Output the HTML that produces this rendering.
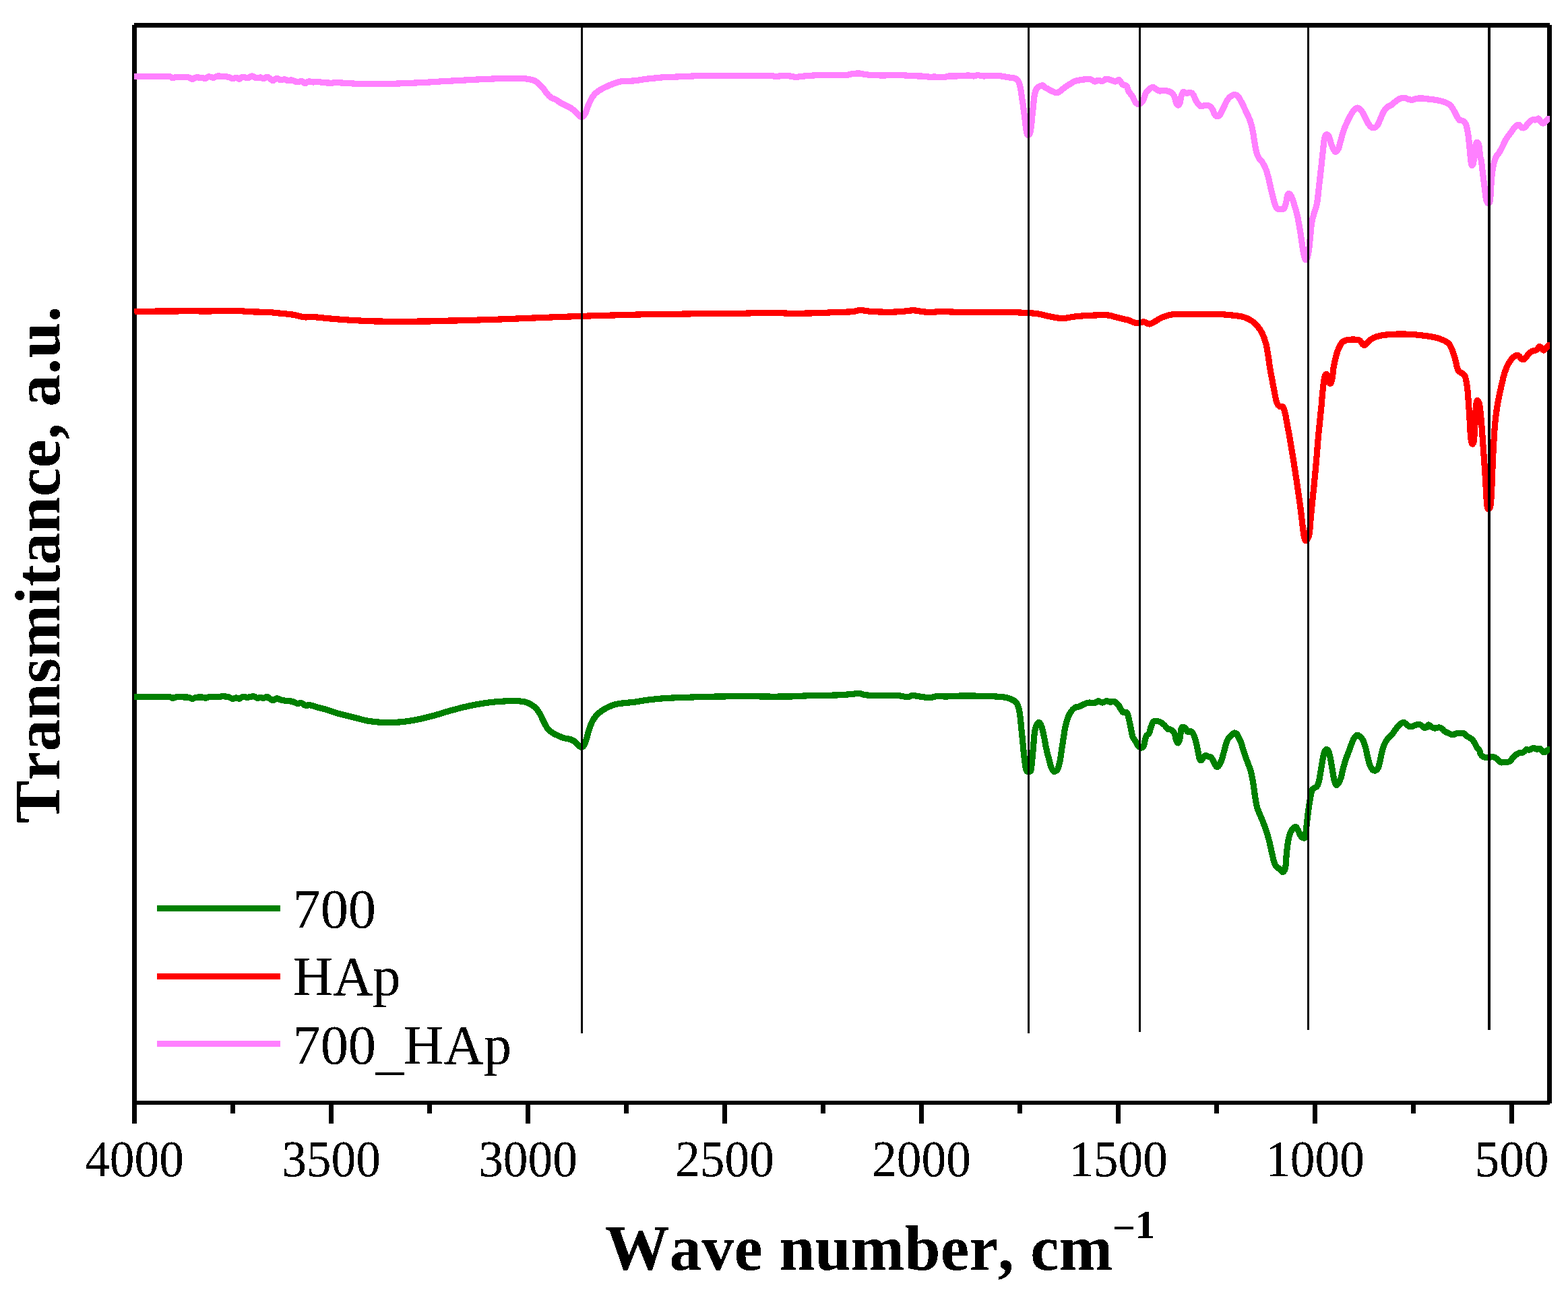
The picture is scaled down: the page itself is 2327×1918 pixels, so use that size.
<!DOCTYPE html>
<html lang="en"><head><meta charset="utf-8"><title>FTIR spectra: 700, HAp, 700_HAp</title>
<style>
html,body{margin:0;padding:0;background:#fff;}
body{width:2327px;height:1918px;overflow:hidden;}
svg{display:block;}
text{font-family:"Liberation Serif","Times New Roman",serif;fill:#000;}
.tick{font-size:76px;}
.leg{font-size:82.3px;}
.ax{font-weight:bold;font-size:95.3px;font-kerning:none;letter-spacing:0.3px;}
.sup{font-weight:bold;font-size:59px;font-kerning:none;letter-spacing:0;}
.k{fill:#000;}
.c{fill:none;stroke-width:9.2;stroke-linejoin:round;stroke-linecap:butt;shape-rendering:crispEdges;}
</style></head><body>
<svg width="2327" height="1918" viewBox="0 0 2327 1918">
<defs><filter id="crisp" x="0" y="0" width="100%" height="100%" filterUnits="userSpaceOnUse" color-interpolation-filters="sRGB"><feComponentTransfer><feFuncA type="discrete" tableValues="0 0 1 1 1"/></feComponentTransfer></filter></defs>
<rect x="0" y="0" width="2327" height="1918" fill="#ffffff"/>
<g id="frame">
<rect class="k" x="199" y="34" width="2101" height="7"/>
<rect class="k" x="196" y="37" width="7" height="1631"/>
<rect class="k" x="2296" y="37" width="7" height="1601"/>
<rect class="k" x="199" y="1634" width="2101" height="6"/>
</g>
<g id="ticks">
<rect class="k" x="342" y="1637" width="7" height="16"/>
<rect class="k" x="488" y="1637" width="7" height="31"/>
<rect class="k" x="634" y="1637" width="7" height="16"/>
<rect class="k" x="780" y="1637" width="7" height="31"/>
<rect class="k" x="926" y="1637" width="7" height="16"/>
<rect class="k" x="1072" y="1637" width="7" height="31"/>
<rect class="k" x="1218" y="1637" width="7" height="16"/>
<rect class="k" x="1364" y="1637" width="7" height="31"/>
<rect class="k" x="1510" y="1637" width="7" height="16"/>
<rect class="k" x="1656" y="1637" width="7" height="31"/>
<rect class="k" x="1802" y="1637" width="7" height="16"/>
<rect class="k" x="1948" y="1637" width="7" height="31"/>
<rect class="k" x="2094" y="1637" width="7" height="16"/>
<rect class="k" x="2240" y="1637" width="7" height="31"/>
</g>
<g id="curves">
<path class="c" stroke="#008000" d="M199,1034.5C203.9,1034.5 220,1034.8 228.5,1034.8C237,1034.7 245.2,1033.9 249.9,1034.2C254.5,1034.5 254.1,1036.2 256.3,1036.3C258.4,1036.4 260.2,1034.9 262.7,1034.6C265.2,1034.4 268.4,1034.8 271.2,1034.9C274.1,1035 277.4,1034.8 279.8,1035.2C282.1,1035.6 283.6,1037.3 285.5,1037.3C287.4,1037.3 288.8,1035.7 291.2,1035.3C293.5,1034.9 297.3,1034.9 299.7,1035C302.1,1035.2 303.5,1036.3 305.4,1036.2C307.3,1036.1 308.3,1034.7 311.1,1034.5C314,1034.2 319.2,1034.7 322.5,1034.6C325.8,1034.5 328.2,1033.7 331.1,1033.8C333.9,1033.8 337.2,1034.3 339.6,1034.9C342,1035.5 343.4,1037.2 345.3,1037.3C347.2,1037.5 349.3,1035.9 351,1035.9C352.7,1035.9 353.8,1037.5 355.3,1037.3C356.7,1037.1 357.4,1035 359.5,1034.6C361.7,1034.3 365.2,1035.3 368.1,1035.2C370.9,1035 374.4,1033.6 376.6,1033.8C378.9,1033.9 380,1036.1 381.6,1036.3C383.3,1036.6 385.1,1035.3 386.6,1035.3C388.2,1035.3 389.2,1036.5 390.9,1036.3C392.5,1036.2 394.9,1034.3 396.6,1034.5C398.2,1034.6 399.4,1036.5 400.9,1037.3C402.3,1038.2 403.5,1039.7 405.1,1039.6C406.8,1039.5 408.9,1036.9 410.8,1036.8C412.7,1036.6 414.1,1038.1 416.5,1038.8C418.9,1039.4 422.2,1040.2 425.1,1040.6C427.9,1041 431,1040.7 433.6,1041.3C436.2,1041.9 438.4,1043.7 440.7,1044.2C443.1,1044.6 445.8,1043.4 447.9,1043.9C449.9,1044.3 450.7,1046.5 452.9,1047C455,1047.5 457.7,1046.5 460.7,1047C463.6,1047.5 467.6,1049 470.7,1049.9C473.7,1050.7 475.9,1051 479.2,1052C482.5,1052.9 487.3,1054.5 490.6,1055.6C493.9,1056.6 493.9,1056.9 499.1,1058.4C504.4,1059.9 514.5,1062.3 522.4,1064.3C530.2,1066.2 538.2,1068.8 546.1,1070.2C554,1071.6 562,1072.3 569.9,1072.6C577.8,1072.9 585.7,1072.6 593.6,1071.9C601.5,1071.2 609.4,1070 617.4,1068.6C625.3,1067.1 633.2,1065.2 641.1,1063.1C649,1061 657.3,1058.1 664.8,1056C672.3,1053.8 679.7,1051.9 686.2,1050.3C692.7,1048.7 696.9,1047.7 703.7,1046.5C710.6,1045.2 719.6,1043.6 727.5,1042.7C735.4,1041.7 744.1,1041.1 751.2,1040.8C758.4,1040.5 765.1,1040.4 770.2,1040.8C775.4,1041.1 778.1,1041.4 782.1,1042.9C786,1044.5 790.8,1047.3 794,1050C797.1,1052.8 798.9,1056 801.1,1059.5C803.3,1063.1 805,1067.7 807,1071.4C809,1075.2 810.8,1079.3 813,1082.1C815.1,1084.9 817.3,1086.2 820.1,1088C822.9,1089.8 826.8,1091.5 829.6,1092.8C832.3,1094 833.9,1094.8 836.7,1095.6C839.5,1096.4 843.4,1096.6 846.2,1097.5C849,1098.4 851.1,1099.5 853.3,1101.1C855.5,1102.7 857.7,1105.6 859.2,1107C860.8,1108.4 861.6,1109.4 862.8,1109.4C864,1109.4 865.2,1108.8 866.4,1107C867.6,1105.2 868.7,1102.3 869.9,1098.7C871.1,1095.1 872.1,1090 873.5,1085.7C874.9,1081.3 876.5,1076.3 878.2,1072.6C880,1068.8 881.6,1066.1 884.2,1063.1C886.8,1060.1 890.1,1057.2 893.7,1054.8C897.2,1052.3 901.6,1050 905.5,1048.4C909.5,1046.7 911.5,1045.8 917.4,1044.8C923.4,1043.8 933.2,1043.2 941.2,1042.2C949.1,1041.2 957,1039.6 964.9,1038.6C972.8,1037.7 978.7,1037.1 988.6,1036.5C998.5,1035.9 1012.4,1035.5 1024.2,1035.1C1036.1,1034.7 1046,1034.4 1059.9,1034.1C1073.7,1033.9 1093.5,1033.7 1107.3,1033.7C1121.2,1033.7 1131.5,1034.1 1143,1034.1C1154.4,1034.2 1168.5,1034 1176.2,1033.9C1183.9,1033.7 1183.7,1033.4 1189,1033.2C1194.3,1033 1198.5,1032.8 1208,1032.6C1217.5,1032.4 1236.5,1032.2 1246,1031.8C1255.5,1031.5 1260.1,1030.7 1265,1030.3C1269.9,1029.9 1272.2,1029.2 1275.4,1029.4C1278.6,1029.6 1279.4,1031.1 1284,1031.7C1288.5,1032.2 1295,1032.6 1303,1032.8C1310.9,1033 1324.2,1032.3 1331.4,1032.6C1338.7,1032.9 1342.8,1034.7 1346.6,1034.7C1350.4,1034.7 1350.8,1032.7 1354.2,1032.6C1357.7,1032.5 1363.1,1033.8 1367.5,1034.3C1372,1034.9 1377.3,1035.9 1380.8,1035.8C1384.3,1035.8 1384,1034.3 1388.4,1033.9C1392.9,1033.6 1401.1,1034.1 1407.4,1033.9C1413.8,1033.8 1418.5,1033.1 1426.4,1033C1434.3,1032.9 1447,1033.1 1454.9,1033.2C1462.8,1033.3 1467.6,1033.4 1473.9,1033.8C1480.2,1034.1 1488.1,1034.6 1492.9,1035.5C1497.6,1036.3 1499.8,1037.7 1502.4,1038.9C1504.9,1040.1 1506.5,1040.6 1508.1,1042.7C1509.7,1044.7 1510.9,1047.4 1511.9,1051.2C1512.9,1055 1513.5,1059.9 1514.2,1065.5C1514.9,1071 1515.4,1078.1 1516.1,1084.5C1516.7,1090.8 1517.3,1097.1 1518,1103.5C1518.6,1109.8 1519.2,1116.8 1519.9,1122.5C1520.5,1128.1 1521.1,1134 1521.8,1137.6C1522.4,1141.3 1522.8,1143 1523.7,1144.3C1524.5,1145.6 1526,1145.4 1527.1,1145.2C1528.1,1145.1 1529.2,1145.9 1529.9,1143.3C1530.7,1140.8 1531.1,1135.4 1531.6,1130C1532.2,1124.7 1532.8,1117.4 1533.3,1111C1533.9,1104.7 1534.3,1097.3 1534.9,1092.1C1535.5,1086.8 1535.9,1082.9 1537,1079.7C1538,1076.5 1539.7,1073.5 1540.9,1072.7C1542.1,1071.9 1543.2,1073.3 1544.2,1075C1545.2,1076.6 1546.1,1079.1 1547,1082.6C1548,1086 1548.9,1091.1 1549.9,1095.9C1550.8,1100.6 1551.6,1106 1552.7,1111C1553.8,1116.1 1555.2,1121.5 1556.5,1126.2C1557.8,1131 1559,1136.4 1560.3,1139.5C1561.6,1142.7 1563.3,1144.4 1564.1,1145.2C1564.9,1146.1 1564.3,1144.9 1565.1,1144.5C1565.9,1144.1 1567.8,1144.8 1569,1143C1570.2,1141.1 1571.3,1137.7 1572.3,1133.2C1573.4,1128.6 1574.3,1121.7 1575.2,1115.5C1576.2,1109.3 1577.2,1102.2 1578.2,1096C1579.2,1089.7 1580,1083.6 1581.1,1078.3C1582.3,1073.1 1583.6,1068.4 1585,1064.6C1586.5,1060.9 1588.1,1058.2 1589.9,1055.8C1591.7,1053.4 1593.7,1051.5 1595.8,1050.3C1597.9,1049.1 1600.5,1049.4 1602.7,1048.6C1604.8,1047.7 1606.3,1046.3 1608.5,1045.4C1610.8,1044.5 1613.8,1043.4 1616.4,1043.1C1619,1042.8 1621.9,1043.9 1624.2,1043.5C1626.5,1043.1 1628.1,1040.8 1630.1,1040.7C1632,1040.7 1634,1043.1 1636,1043.1C1637.9,1043.1 1639.9,1040.9 1641.8,1040.7C1643.8,1040.6 1645.7,1042 1647.7,1042.1C1649.7,1042.2 1651.6,1040.9 1653.6,1041.5C1655.5,1042.2 1657.8,1044.1 1659.5,1046C1661.1,1047.9 1662.1,1050.9 1663.4,1052.9C1664.7,1054.8 1665.8,1057 1667.3,1057.8C1668.7,1058.6 1670.9,1056.3 1672.2,1057.8C1673.5,1059.2 1674.1,1062.8 1675.1,1066.6C1676.1,1070.3 1677.1,1075.7 1678,1080.3C1679,1084.9 1679.8,1090.7 1681,1094C1682.1,1097.3 1683.6,1097.7 1684.9,1099.9C1686.2,1102 1687.5,1105.1 1688.8,1106.7C1690.1,1108.4 1691.4,1109.3 1692.7,1109.7C1694,1110 1695.5,1110.6 1696.7,1108.7C1697.8,1106.7 1698.8,1100.7 1699.6,1097.9C1700.4,1095.1 1700.6,1093.7 1701.5,1092C1702.5,1090.4 1704.3,1090.4 1705.5,1088.1C1706.6,1085.8 1707.4,1081.1 1708.4,1078.3C1709.4,1075.6 1710.2,1072.8 1711.3,1071.5C1712.5,1070.2 1713.6,1070.5 1715.3,1070.5C1716.9,1070.5 1719,1070.5 1721.1,1071.5C1723.3,1072.5 1726,1074.6 1728,1076.4C1729.9,1078.2 1731.3,1081.1 1732.9,1082.2C1734.5,1083.4 1736.1,1082.2 1737.8,1083.2C1739.4,1084.2 1741.4,1085.5 1742.7,1088.1C1744,1090.7 1744.6,1096.4 1745.6,1098.9C1746.6,1101.3 1747.6,1103.3 1748.5,1102.8C1749.5,1102.3 1750.3,1099.4 1751.1,1096C1751.8,1092.5 1752.3,1085 1753,1082.2C1753.8,1079.5 1754.4,1079.5 1755.4,1079.3C1756.4,1079.1 1758.2,1080.1 1759.3,1081.3C1760.5,1082.4 1761,1085.4 1762.3,1086.2C1763.6,1086.9 1765.7,1085.1 1767.2,1085.8C1768.6,1086.4 1769.8,1087.4 1771.1,1090.1C1772.4,1092.8 1773.8,1097.6 1775,1101.8C1776.1,1106.1 1777.1,1111.6 1777.9,1115.5C1778.7,1119.5 1779.1,1123.1 1779.9,1125.3C1780.7,1127.5 1781.7,1129.2 1782.8,1128.8C1784,1128.5 1785.6,1124.6 1786.7,1123.4C1787.9,1122.1 1788.5,1121.4 1789.7,1121.4C1790.8,1121.4 1792.3,1122.9 1793.6,1123.4C1794.9,1123.9 1796.2,1123 1797.5,1124.3C1798.8,1125.7 1800.1,1128.9 1801.4,1131.2C1802.7,1133.5 1804,1137.2 1805.3,1138C1806.6,1138.9 1808,1137.9 1809.3,1136.1C1810.6,1134.3 1811.9,1131 1813.2,1127.3C1814.5,1123.5 1815.8,1118.1 1817.1,1113.6C1818.4,1109 1819.5,1103.3 1821,1099.9C1822.5,1096.4 1824.1,1095 1825.9,1093C1827.7,1091.1 1830.1,1088.7 1831.8,1088.1C1833.4,1087.6 1834.9,1089 1835.7,1089.7C1836.5,1090.3 1835.7,1090 1836.6,1092C1837.6,1094.1 1839.9,1097.6 1841.5,1101.8C1843.2,1106.1 1844.8,1112.6 1846.4,1117.5C1848.1,1122.4 1849.7,1126.6 1851.3,1131.2C1853,1135.8 1854.8,1139.4 1856.2,1144.9C1857.7,1150.5 1859,1157.6 1860.1,1164.5C1861.3,1171.3 1862.1,1180.2 1863.1,1186C1864.1,1191.9 1864.9,1195.8 1866,1199.7C1867.2,1203.7 1868.5,1205.9 1869.9,1209.5C1871.4,1213.1 1873.2,1217 1874.8,1221.3C1876.5,1225.5 1878.3,1230.4 1879.7,1235C1881.2,1239.6 1882.3,1243.5 1883.6,1248.7C1884.9,1253.9 1886.3,1260.8 1887.6,1266.3C1888.9,1271.9 1890.2,1278.4 1891.5,1282C1892.8,1285.6 1894.1,1286.6 1895.4,1287.9C1896.7,1289.2 1898.2,1288.8 1899.3,1289.8C1900.5,1290.8 1901.3,1293.1 1902.2,1293.7C1903.2,1294.4 1904.3,1294.7 1905.2,1293.7C1906.1,1292.8 1907.1,1291.8 1907.7,1287.9C1908.4,1283.9 1908.5,1276.1 1909.1,1270.2C1909.7,1264.4 1910.2,1257.8 1911.1,1252.6C1911.9,1247.4 1912.8,1242.5 1914,1238.9C1915.1,1235.3 1916.8,1232.9 1917.9,1231.1C1919.1,1229.3 1919.9,1228.6 1920.8,1228.1C1921.8,1227.6 1922.8,1227.3 1923.8,1228.1C1924.8,1228.9 1925.7,1231.1 1926.7,1233C1927.7,1235 1928.5,1238.1 1929.7,1239.9C1930.8,1241.7 1932.3,1243.5 1933.6,1243.8C1934.8,1244.1 1936.2,1244.9 1937.1,1241.8C1938,1238.7 1938.3,1231.2 1939.1,1225.2C1939.8,1219.2 1940.5,1212.1 1941.4,1205.6C1942.3,1199.1 1943.4,1191.4 1944.3,1186C1945.3,1180.6 1945.9,1176 1946.9,1173.3C1947.9,1170.6 1948.8,1171.1 1950.2,1170C1951.6,1168.8 1953.8,1168.7 1955.1,1166.5C1956.4,1164.2 1957.1,1160.9 1958,1156.7C1959,1152.4 1959.7,1146.2 1960.6,1141C1961.5,1135.8 1962.5,1129.6 1963.3,1125.3C1964.2,1121.1 1965,1117.7 1965.9,1115.5C1966.8,1113.4 1967.9,1112.6 1968.8,1112.6C1969.8,1112.6 1970.8,1113.1 1971.8,1115.5C1972.7,1118 1973.7,1122.4 1974.7,1127.3C1975.7,1132.2 1976.7,1139.7 1977.6,1144.9C1978.6,1150.1 1979.3,1155.2 1980.2,1158.6C1981.1,1162 1981.9,1164.8 1982.9,1165.5C1984,1166.1 1985.3,1164.3 1986.5,1162.5C1987.6,1160.7 1988.8,1158.3 1990,1154.7C1991.1,1151.1 1992.1,1145.6 1993.3,1141C1994.5,1136.4 1995.8,1131.7 1997.2,1127.3C1998.7,1122.9 2000.6,1118.5 2002.1,1114.6C2003.6,1110.6 2004.7,1107.1 2006,1103.8C2007.3,1100.5 2008.6,1097 2010,1095C2011.3,1092.9 2012.6,1091.8 2013.9,1091.5C2015.2,1091.1 2016.3,1091.8 2017.8,1093C2019.2,1094.3 2021.2,1096.1 2022.7,1098.9C2024.1,1101.7 2025.4,1105.6 2026.6,1109.7C2027.7,1113.7 2028.4,1118.8 2029.5,1123.4C2030.7,1127.9 2032.1,1133.8 2033.5,1137.1C2034.8,1140.3 2036.1,1141.8 2037.4,1143C2038.7,1144.1 2040,1144.4 2041.3,1143.9C2042.6,1143.4 2044.1,1142.5 2045.2,1140C2046.3,1137.6 2047.2,1133.3 2048.1,1129.2C2049.1,1125.2 2049.9,1119.8 2051.1,1115.5C2052.2,1111.3 2053.5,1107.1 2055,1103.8C2056.5,1100.5 2058.1,1098.2 2059.9,1096C2061.7,1093.7 2063.8,1092.4 2065.8,1090.1C2067.7,1087.8 2069.8,1084.5 2071.6,1082.2C2073.4,1080 2074.7,1078 2076.5,1076.4C2078.3,1074.7 2080.8,1072.8 2082.4,1072.5C2084,1072.1 2084.9,1073.4 2086.3,1074.4C2087.8,1075.4 2089.6,1077.7 2091.2,1078.3C2092.8,1079 2094.3,1078.7 2096.1,1078.3C2097.9,1077.9 2100,1076.4 2102,1076C2103.9,1075.6 2105.9,1075.3 2107.9,1076C2109.8,1076.7 2112.1,1079.7 2113.7,1080.3C2115.4,1080.8 2116.6,1080 2117.7,1079.3C2118.7,1078.6 2118.8,1075.9 2120,1075.9C2121.1,1075.9 2123,1078.5 2124.6,1079.3C2126.1,1080.2 2127.2,1081 2129.2,1081.1C2131.1,1081.2 2134.2,1079.7 2136.1,1079.9C2138,1080.1 2139.4,1081.3 2140.7,1082.2C2142,1083.2 2142.6,1084.6 2144.2,1085.7C2145.7,1086.7 2148,1087.7 2149.9,1088.5C2151.8,1089.4 2153.8,1090.8 2155.7,1090.9C2157.6,1090.9 2159.5,1089.3 2161.4,1088.9C2163.3,1088.5 2165.3,1088.2 2167.2,1088.2C2169.1,1088.2 2171.2,1088.3 2173,1089.1C2174.7,1090 2175.8,1091.9 2177.6,1093.2C2179.3,1094.4 2181.6,1095.2 2183.3,1096.6C2185.1,1098.1 2186.6,1099.8 2187.9,1101.8C2189.3,1103.8 2190.1,1106.7 2191.4,1108.7C2192.6,1110.7 2194.4,1112 2195.4,1113.9C2196.5,1115.8 2196.7,1118.6 2197.7,1120.2C2198.8,1121.9 2199.7,1123 2201.8,1123.7C2203.8,1124.4 2207.3,1124.3 2209.8,1124.3C2212.3,1124.3 2214.6,1123.2 2216.7,1123.7C2218.9,1124.2 2220.8,1125.8 2222.5,1127.2C2224.2,1128.5 2225.2,1131.1 2227.1,1131.8C2229,1132.4 2231.9,1131.4 2234,1131.2C2236.1,1131 2238.1,1131.5 2239.8,1130.6C2241.5,1129.7 2242.7,1127.7 2244.4,1126C2246.1,1124.3 2248.2,1121.7 2250.2,1120.2C2252.1,1118.8 2254.2,1117.9 2255.9,1117.4C2257.6,1116.8 2259,1117.5 2260.5,1116.8C2262.1,1116 2263.6,1113.3 2265.1,1112.8C2266.7,1112.2 2268,1113.7 2269.7,1113.3C2271.5,1112.9 2273.8,1110.6 2275.5,1110.4C2277.2,1110.2 2278.4,1112 2280.1,1112.2C2281.8,1112.4 2284.1,1110.8 2285.9,1111.6C2287.6,1112.4 2288.9,1116.2 2290.5,1116.8C2292,1117.4 2293.8,1115.7 2295.1,1115C2296.3,1114.4 2297.2,1113.1 2298,1112.8C2298.8,1112.4 2299.6,1112.8 2299.9,1112.8"/>
<path class="c" stroke="#ff0000" d="M199.5,462.3C207.4,462.2 232.7,462.1 247,462C261.2,461.9 274.7,461.8 285,461.8C295.3,461.8 298,462.1 308.7,462C319.4,461.9 338.8,461.2 349.1,461.3C359.4,461.4 362.5,462.4 370.4,462.7C378.4,463.1 389,463.1 396.6,463.4C404.1,463.8 408.8,464.4 415.6,465.1C422.3,465.8 431,466.5 436.9,467.5C442.8,468.4 446.4,470.3 451.2,470.8C455.9,471.3 459.5,470.3 465.4,470.6C471.3,470.9 479.3,472 486.8,472.7C494.3,473.4 502.6,474.1 510.5,474.6C518.4,475.2 526.3,475.6 534.2,476C542.2,476.4 548.1,476.8 558,477C567.9,477.2 580.6,477.2 593.6,477.2C606.7,477.2 626.4,477.1 636.3,477C646.2,476.8 644.7,476.5 653,476.3C661.3,476.1 675.8,476 686.2,475.8C696.6,475.6 704.8,475.2 715.6,474.8C726.4,474.5 739.4,474.1 751.2,473.7C763.1,473.2 775,472.7 786.8,472.2C798.7,471.8 809.8,471.3 822.5,470.8C835.1,470.3 850.9,469.8 862.8,469.4C874.7,469 882.6,468.7 893.7,468.4C904.8,468.1 917.4,467.8 929.3,467.5C941.2,467.2 951.1,466.8 964.9,466.5C978.7,466.3 996.6,466.3 1012.4,466.1C1028.2,465.9 1044,465.5 1059.9,465.4C1075.7,465.2 1095.5,465.3 1107.3,465.1C1119.2,464.9 1123.2,464.2 1131.1,464.2C1139,464.1 1147.3,464.4 1154.8,464.6C1162.3,464.8 1171.3,465.3 1176.2,465.4C1181.1,465.4 1181.3,465.2 1184.2,465.1C1187.2,465.1 1188.2,465.2 1193.7,465.1C1199.3,465 1209.6,464.9 1217.5,464.6C1225.4,464.4 1233.3,463.8 1241.2,463.4C1249.1,463.1 1259,463.3 1265,462.7C1270.9,462.2 1272.9,460.5 1276.8,460.4C1280.8,460.2 1282.8,461.5 1288.7,462C1294.6,462.5 1304.5,463.1 1312.5,463.2C1320.4,463.3 1329.1,463.1 1336.2,462.7C1343.3,462.3 1349.3,460.8 1355.2,460.8C1361.1,460.9 1367.1,462.5 1371.8,463C1376.5,463.4 1379.7,463.5 1383.7,463.4C1387.6,463.4 1389.6,462.5 1395.5,462.5C1401.5,462.5 1409.4,463.1 1419.3,463.2C1429.2,463.3 1445,463.1 1454.9,463.2C1464.8,463.3 1470.7,463.6 1478.6,463.7C1486.6,463.8 1494.5,463.5 1502.4,463.7C1510.3,463.8 1519.8,464.3 1526.1,464.6C1532.5,465 1535.6,465.1 1540.4,465.8C1545.1,466.6 1549.9,468.2 1554.6,469.1C1559.4,470.1 1564.9,471.2 1568.9,471.8C1572.8,472.4 1574.4,472.9 1578.4,472.7C1582.3,472.5 1587.5,471 1592.6,470.3C1597.7,469.7 1603.7,469.1 1609.2,468.7C1614.8,468.3 1619.9,468.1 1625.8,468C1631.8,467.8 1639.7,467.4 1644.8,468C1650,468.5 1652.9,470.1 1656.7,471C1660.5,472 1664.5,473 1667.4,473.7C1670.3,474.3 1671.1,474.1 1674.1,475C1677,476 1682.1,478.7 1685,479.4C1687.9,480 1689.4,479.2 1691.6,478.9C1693.8,478.7 1695.8,477.5 1698.1,477.9C1700.5,478.2 1703.2,481.2 1705.8,481.1C1708.4,481.1 1710.7,479.1 1713.5,477.6C1716.2,476.2 1719.3,473.8 1722.2,472.4C1725.1,470.9 1728,469.8 1731,468.9C1733.9,468 1735,467.3 1739.7,466.9C1744.5,466.5 1750.7,466.6 1759.4,466.5C1768.2,466.4 1782.7,466.4 1792.2,466.5C1801.7,466.6 1809,466.5 1816.3,466.9C1823.6,467.3 1830.9,468.2 1836,468.9C1841.1,469.6 1843.3,469.8 1846.9,471.1C1850.6,472.3 1854.6,474.2 1857.9,476.5C1861.2,478.8 1864.1,481.8 1866.6,484.9C1869.2,487.9 1871.2,490.5 1873.2,494.7C1875.2,498.9 1877.2,504.5 1878.7,510C1880.1,515.5 1880.9,521 1882,527.5C1883,534.1 1884.1,542.8 1885.2,549.4C1886.3,556 1887.4,561.1 1888.5,566.9C1889.6,572.7 1890.7,579.1 1891.8,584.4C1892.9,589.7 1893.8,595.4 1895.1,598.6C1896.4,601.9 1898,602.8 1899.5,603.7C1900.9,604.6 1902.6,602.6 1903.8,604.1C1905.1,605.6 1906,608.5 1907.1,612.9C1908.2,617.2 1909.3,624.5 1910.4,630.4C1911.5,636.2 1912.6,641.7 1913.7,647.9C1914.8,654.1 1915.9,661 1917,667.6C1918.1,674.1 1919.1,680.3 1920.2,687.3C1921.3,694.2 1922.4,701.9 1923.5,709.1C1924.6,716.4 1925.7,723.4 1926.8,731C1927.9,738.7 1929.1,747.4 1930.1,755.1C1931.1,762.8 1931.9,770.4 1932.7,777C1933.5,783.5 1934.2,790.3 1934.9,794.5C1935.6,798.7 1936.3,801 1937.1,802.1C1937.9,803.2 1938.9,802.7 1939.9,801C1941,799.4 1942.3,797.8 1943.2,792.3C1944.1,786.8 1944.5,776.6 1945.3,768.2C1946.1,759.8 1947,751.5 1947.9,742C1948.9,732.5 1950,721.5 1951,711.3C1952,701.1 1953,690.9 1953.8,680.7C1954.7,670.5 1955.4,659.6 1956.3,650.1C1957.1,640.6 1958.1,631.8 1958.9,623.8C1959.7,615.8 1960.4,608.9 1961.1,601.9C1961.7,595 1962.2,588.1 1962.8,582.2C1963.4,576.4 1964,570.9 1964.6,566.9C1965.1,562.9 1965.4,560 1966.1,558.2C1966.8,556.3 1968,554.9 1969,556C1969.9,557.1 1970.7,562.5 1971.6,564.7C1972.5,567 1973.5,569.9 1974.4,569.5C1975.3,569.2 1976.2,566.6 1977,562.5C1977.9,558.5 1978.3,550.5 1979.2,545C1980.1,539.6 1981.2,534.5 1982.5,529.7C1983.8,525 1985.2,520.2 1986.9,516.6C1988.5,512.9 1990.2,509.8 1992.4,507.8C1994.5,505.8 1996.9,505.2 2000,504.6C2003.1,503.9 2008,504 2011,504.1C2013.9,504.2 2015.8,504 2017.5,505C2019.3,506 2020.3,508.7 2021.5,510C2022.6,511.3 2023.4,512.7 2024.5,512.6C2025.7,512.6 2026.7,511.1 2028.5,509.6C2030.2,508 2032.5,505.1 2035,503.5C2037.6,501.8 2040.5,500.5 2043.8,499.5C2047.1,498.5 2050.4,497.9 2054.7,497.3C2059.1,496.8 2065.3,496.5 2070,496.2C2074.8,496 2078.1,495.9 2083.2,496C2088.3,496.1 2095.2,496.5 2100.7,496.9C2106.2,497.3 2110.9,497.9 2116,498.6C2121.1,499.4 2126.9,500.2 2131.3,501.3C2135.7,502.4 2139.2,503.8 2142.2,505.2C2145.3,506.7 2147.7,507.6 2149.9,510C2152.1,512.5 2153.7,515.9 2155.4,519.9C2157,523.9 2158.4,529.2 2159.8,534.1C2161.1,539 2162.2,546.2 2163.7,549.4C2165.2,552.6 2166.8,551.9 2168.5,553.4C2170.2,554.8 2172.5,554.8 2174,558.2C2175.4,561.5 2176.3,566.9 2177.3,573.5C2178.2,580 2178.8,588.8 2179.4,597.5C2180.1,606.3 2180.7,617.2 2181.2,626C2181.7,634.8 2182.2,644.6 2182.7,650.1C2183.3,655.5 2183.8,657.9 2184.5,658.8C2185.2,659.7 2186.4,659.2 2187.1,655.5C2187.8,651.9 2188.2,644.4 2188.6,636.9C2189.1,629.5 2189.5,617.4 2190,610.7C2190.4,603.9 2190.9,599 2191.5,596.5C2192.1,593.9 2193,594.4 2193.7,595.4C2194.4,596.3 2195.1,597.6 2195.9,601.9C2196.6,606.3 2197.3,613.6 2198.1,621.6C2198.8,629.6 2199.5,640.2 2200.2,650.1C2201,659.9 2201.7,670.1 2202.4,680.7C2203.2,691.3 2204,703.3 2204.6,713.5C2205.2,723.7 2205.7,735.2 2206.2,742C2206.6,748.7 2206.8,751.8 2207.5,754C2208.1,756.2 2209.3,756 2210.1,755.1C2210.9,754.2 2211.7,753.6 2212.3,748.5C2212.9,743.4 2213.3,733.9 2213.8,724.5C2214.3,715 2214.6,702.6 2215.1,691.6C2215.6,680.7 2216,669.4 2216.7,658.8C2217.3,648.2 2217.9,637.7 2218.8,628.2C2219.8,618.7 2220.8,610.2 2222.1,601.9C2223.5,593.6 2225.6,584.3 2226.9,578.3C2228.1,572.2 2228.8,569.4 2229.8,565.6C2230.7,561.7 2231.2,558.9 2232.4,555.2C2233.6,551.6 2235.2,547 2236.7,543.7C2238.1,540.4 2239.6,537.9 2241.3,535.6C2242.9,533.3 2244.8,531.3 2246.5,529.9C2248.1,528.5 2249.7,527.4 2251.1,527.2C2252.4,527 2253.5,527.8 2254.5,528.7C2255.6,529.6 2256.3,531.9 2257.4,532.8C2258.6,533.6 2260.2,534 2261.4,533.6C2262.7,533.1 2263.5,531.3 2264.9,529.9C2266.2,528.4 2268,526.1 2269.5,524.7C2271,523.2 2272.6,522 2274.1,521.2C2275.6,520.5 2277.4,520.7 2278.7,520.1C2280.1,519.5 2281.2,518.7 2282.2,517.8C2283.1,516.8 2283.5,514.5 2284.5,514.3C2285.4,514.1 2286.9,515.7 2287.9,516.6C2289,517.6 2289.7,520.1 2290.8,520.1C2292,520.1 2293.6,517.9 2294.8,516.6C2296.1,515.4 2297.4,513.3 2298.3,512.6C2299.2,511.9 2299.8,512.6 2300,512.6"/>
<path class="c" stroke="#ff80ff" d="M199,113.5C203.9,113.5 220,113.8 228.5,113.8C237,113.7 245.2,112.9 249.9,113.2C254.5,113.5 254.1,115.4 256.3,115.6C258.4,115.8 260.2,114.4 262.7,114.2C265.2,114 268.4,114.4 271.2,114.5C274.1,114.6 277.4,114.4 279.8,114.9C282.1,115.4 283.6,117.3 285.5,117.3C287.4,117.3 288.8,115.2 291.2,114.9C293.5,114.6 297.3,115.4 299.7,115.6C302.1,115.8 303.7,116.6 305.4,116.3C307.1,116 307.8,113.9 309.7,113.8C311.6,113.6 314.7,115.4 316.8,115.3C318.9,115.2 320.1,113.4 322.5,113C324.9,112.7 328.2,113.2 331.1,113.5C333.9,113.7 337.2,113.9 339.6,114.5C342,115 343.4,116.6 345.3,116.8C347.2,116.9 349.3,115.2 351,115.3C352.7,115.4 353.8,117.5 355.3,117.3C356.7,117.1 357.4,114.5 359.5,114.2C361.7,113.9 365.7,115.8 368.1,115.6C370.5,115.4 371.7,113 373.8,113C375.9,113.1 378.8,115.6 380.9,115.9C383,116.2 384.9,114.8 386.6,114.9C388.3,115 389.2,116.9 390.9,116.8C392.5,116.6 394.9,114.1 396.6,114.2C398.2,114.2 399.4,116.1 400.9,117C402.3,117.9 403.5,119.7 405.1,119.6C406.8,119.5 408.9,116.5 410.8,116.3C412.7,116.2 414.6,118.5 416.5,118.8C418.4,119 420.3,117.6 422.2,117.8C424.1,117.9 426.3,119.7 427.9,119.9C429.6,120.1 430.1,118.5 432.2,118.8C434.3,119 438.1,121.3 440.7,121.6C443.4,121.9 445.8,120.2 447.9,120.6C449.9,121 451.2,123.8 452.9,123.9C454.5,123.9 455.8,121.2 457.8,120.9C459.8,120.6 462.8,121.9 465,122C467.1,122.1 468.3,121.2 470.7,121.3C473,121.4 475.9,122.1 479.2,122.5C482.5,122.8 487.3,123.1 490.6,123.2C493.9,123.2 495.4,122.7 499.1,122.7C502.9,122.8 507.4,123 512.9,123.3C518.3,123.6 525.5,124.2 531.9,124.4C538.2,124.6 544.5,124.4 550.9,124.4C557.2,124.4 565,124.4 569.9,124.4C574.7,124.4 575.1,124.6 580,124.4C584.9,124.3 591.1,124 599,123.7C606.9,123.4 618,123 627.5,122.5C637,122.1 646.5,121.4 656,120.8C665.5,120.3 675,119.8 684.5,119.3C694,118.8 703.5,118.2 713,117.8C722.4,117.4 731.9,116.9 741.4,116.7C750.9,116.4 763.6,116.4 769.9,116.5C776.3,116.5 776.3,116.5 779.4,116.8C782.6,117.2 786.4,117.8 788.9,118.4C791.5,119 792.7,119.4 794.6,120.5C796.5,121.6 798.4,123.3 800.3,125C802.2,126.8 804.1,128.6 806,130.9C807.9,133.2 809.8,136.6 811.7,138.9C813.6,141.2 815.2,143.1 817.4,144.6C819.6,146.1 822.5,146.6 825,148C827.5,149.4 830.1,151.6 832.6,153.1C835.1,154.6 837.7,155.7 840.2,156.9C842.7,158.2 845.6,159.2 847.8,160.7C850,162.2 851.6,164.1 853.5,165.8C855.4,167.6 857.8,169.9 859.2,171.2C860.6,172.5 861.1,173.3 862,173.6C863,174 863.8,174 864.9,173.1C866,172.2 867.4,170.9 868.7,168.3C870,165.8 871.2,161 872.5,157.9C873.8,154.7 875,151.9 876.3,149.3C877.6,146.8 878.8,144.5 880.1,142.7C881.4,140.9 882.3,139.9 883.9,138.5C885.5,137.1 887.1,135.7 889.6,134.1C892.1,132.5 895.9,130.5 899.1,129C902.3,127.5 904.8,126.4 908.6,125C912.4,123.7 916.5,121.7 921.9,120.8C927.3,120 934.5,120.5 940.9,119.9C947.2,119.3 953.9,118 959.9,117.2C965.9,116.5 973.1,115.9 977,115.5C980.8,115.1 977.7,115.2 982.8,114.9C987.9,114.6 997.7,114.3 1007.5,113.9C1017.3,113.6 1027.4,112.8 1041.7,112.6C1055.9,112.4 1076.2,112.6 1093,112.6C1109.7,112.6 1132.8,112.5 1142.3,112.6C1151.8,112.8 1146.8,113.6 1149.9,113.6C1153.1,113.6 1157.5,112.7 1161.3,112.6C1165.1,112.5 1169.6,112.7 1172.7,113C1175.9,113.3 1177.2,114.3 1180.3,114.3C1183.5,114.4 1187.3,113.6 1191.7,113.2C1196.2,112.8 1199.6,112.4 1206.9,112C1214.2,111.7 1227.2,111.4 1235.4,111.3C1243.6,111.2 1251.6,111.7 1256.3,111.5C1261,111.2 1260.7,110.2 1263.9,109.8C1267.1,109.3 1272.1,108.9 1275.3,109C1278.5,109.1 1279.1,109.9 1282.9,110.3C1286.7,110.8 1290.2,111.6 1298.1,111.8C1306,112.1 1323.4,111.8 1330.4,111.8C1337.3,111.8 1335.4,111.7 1339.9,111.8C1344.3,112 1352.2,112.6 1357,112.8C1361.7,113 1364.9,112.9 1368.5,113.1C1372.1,113.4 1375.1,114 1378.5,114.1C1381.8,114.3 1384.9,114 1388.4,114.1C1392,114.2 1396.5,115 1399.8,114.8C1403.2,114.7 1405.1,113.3 1408.4,113C1411.7,112.7 1415,113.2 1419.8,113C1424.5,112.8 1432.6,112 1436.9,112C1441.1,112 1443,113 1445.4,113C1447.8,112.9 1448.7,111.7 1451.1,111.7C1453.5,111.7 1456.8,112.9 1459.7,113C1462.5,113.1 1464.4,112.5 1468.2,112.4C1472,112.4 1478.7,112.5 1482.5,112.7C1486.2,112.9 1488.2,113.4 1491,113.8C1493.8,114.3 1497.2,114.9 1499.5,115.3C1501.9,115.6 1503.6,115.5 1505.2,116C1506.9,116.5 1508.3,117.3 1509.5,118.4C1510.7,119.5 1511.5,120.5 1512.4,122.7C1513.2,124.8 1513.8,127.4 1514.5,131.2C1515.2,135 1515.9,140.7 1516.6,145.5C1517.4,150.2 1518.1,155 1518.8,159.7C1519.4,164.5 1520,169.2 1520.6,174C1521.2,178.7 1521.8,184.2 1522.3,188.2C1522.9,192.2 1523.6,196.2 1524,198.2C1524.5,200.2 1524.8,200 1525.2,200.3C1525.6,200.7 1526,200.9 1526.6,200.3C1527.2,199.7 1528.1,199.2 1528.8,196.8C1529.4,194.3 1530.1,189.6 1530.6,185.4C1531.1,181.1 1531.5,175.9 1532,171.1C1532.5,166.4 1533,161.4 1533.5,156.9C1533.9,152.4 1534.3,147.6 1534.9,144.1C1535.4,140.5 1535.8,137.8 1536.6,135.5C1537.3,133.2 1538.2,131.8 1539.4,130.5C1540.6,129.2 1542.3,128.3 1543.7,127.7C1545.1,127.1 1546.8,126.6 1548,127C1549.2,127.3 1549.6,129 1550.8,129.8C1552,130.6 1553.4,131 1555.1,131.9C1556.8,132.8 1558.7,134.3 1560.8,135.2C1562.9,136.2 1566,137.5 1567.9,137.6C1569.8,137.8 1570.8,137 1572.2,136.2C1573.6,135.4 1574.8,134 1576.5,132.7C1578.1,131.3 1580.3,129.7 1582.2,128.4C1584.1,127.1 1586,126 1587.9,124.8C1589.8,123.6 1591.7,122.1 1593.6,121.2C1595.5,120.4 1596.9,120.1 1599.3,119.5C1601.6,119 1604.7,118.4 1607.8,118.1C1610.9,117.8 1614.9,117.2 1617.8,117.7C1620.6,118.2 1623,120.7 1624.9,121C1626.8,121.2 1627.3,119.2 1629.2,119.1C1631.1,119 1634.2,120.9 1636.3,120.5C1638.4,120.2 1639.4,117.4 1641.5,117.2C1643.7,116.9 1647.1,118.5 1649.4,119.1C1651.7,119.8 1653.3,121.2 1655.2,121.1C1657.2,121 1659.3,118 1661.1,118.8C1662.9,119.5 1664.2,124.1 1666,125.6C1667.8,127.1 1670.4,125.9 1671.9,127.6C1673.4,129.2 1673.4,132.8 1674.8,135.4C1676.3,138 1679.1,140.6 1680.7,143.2C1682.3,145.8 1683.3,149.2 1684.6,151.1C1685.9,152.9 1687.1,154.1 1688.5,154.4C1690,154.7 1692,154.2 1693.4,153C1694.9,151.8 1696.2,149.6 1697.3,147.1C1698.5,144.7 1699,140.8 1700.3,138.3C1701.6,135.9 1703.4,133.9 1705.2,132.4C1707,131 1709.3,129.5 1711.1,129.5C1712.9,129.5 1714.3,131.5 1716,132.4C1717.6,133.4 1718.9,134.7 1720.8,135C1722.8,135.3 1724.9,134.1 1727.7,134.4C1730.5,134.7 1735,135.5 1737.5,136.8C1739.9,138.1 1741.1,139.7 1742.4,142.2C1743.7,144.8 1744.4,149.7 1745.3,152C1746.3,154.4 1747.3,156.3 1748.3,156.3C1749.2,156.3 1750.4,154.4 1751.2,152C1752,149.7 1752.3,144.9 1753.2,142.2C1754,139.6 1754.8,137 1756.1,136.4C1757.4,135.7 1759.2,138.2 1761,138.3C1762.8,138.5 1765.2,137 1766.9,137.3C1768.5,137.7 1769.5,138.3 1770.8,140.3C1772.1,142.2 1773.4,146.7 1774.7,149.1C1776,151.5 1777.3,153.5 1778.6,155C1779.9,156.4 1780.9,157.7 1782.5,157.9C1784.2,158.1 1786.5,156.5 1788.4,156.3C1790.4,156.2 1792.5,156 1794.3,156.9C1796.1,157.8 1797.7,159.5 1799.2,161.8C1800.6,164.1 1801.8,168.8 1803.1,170.6C1804.4,172.4 1805.7,172.8 1807,172.6C1808.3,172.4 1809.5,171.8 1810.9,169.7C1812.4,167.5 1814,163.5 1815.8,159.9C1817.6,156.3 1819.7,151.1 1821.7,148.1C1823.7,145.2 1825.8,143.5 1827.6,142.2C1829.4,141 1830.8,140.5 1832.5,140.7C1834.1,140.8 1835.6,141.2 1837.4,143.2C1839.2,145.3 1841.3,149.3 1843.2,153C1845.2,156.8 1847.2,161.5 1849.1,165.7C1851.1,170 1853.4,173.9 1855,178.5C1856.6,183 1857.8,187.8 1858.9,193.2C1860,198.5 1860.9,205.2 1861.8,210.8C1862.8,216.3 1863.6,222.4 1864.8,226.4C1865.9,230.5 1867.2,232.8 1868.7,235.3C1870.2,237.7 1872,238.5 1873.6,241.1C1875.2,243.8 1877,247.2 1878.5,250.9C1880,254.7 1881.1,258.6 1882.4,263.7C1883.7,268.7 1885,275.7 1886.3,281.3C1887.6,286.8 1889.1,292.7 1890.2,296.9C1891.4,301.2 1892.4,304.6 1893.4,306.7C1894.3,308.9 1894.9,309.4 1896.1,310.1C1897.3,310.7 1899,310.6 1900.4,310.6C1901.9,310.6 1903.7,311.2 1904.9,310.1C1906.2,308.9 1906.9,307.1 1907.9,303.8C1908.8,300.5 1909.9,292.8 1910.8,290.1C1911.7,287.4 1912.2,287.2 1913.2,287.6C1914.1,287.9 1915.4,289.4 1916.7,292.1C1917.9,294.7 1919.1,298.4 1920.6,303.2C1922,308 1924,314.3 1925.5,320.9C1926.9,327.4 1928.2,335.5 1929.4,342.4C1930.5,349.3 1931.4,356.1 1932.3,362C1933.2,367.9 1934,373.7 1934.9,377.6C1935.7,381.6 1936.3,384.7 1937.2,385.5C1938.1,386.3 1939.2,385.2 1940.1,382.6C1941.1,379.9 1941.9,375.2 1942.7,369.8C1943.4,364.4 1943.9,357.1 1944.7,350.2C1945.4,343.4 1945.9,334.9 1947,328.7C1948.1,322.5 1950,317.6 1951.3,313C1952.6,308.5 1953.6,307.5 1954.6,301.3C1955.7,295.1 1956.6,284.3 1957.6,275.8C1958.5,267.3 1959.6,258.9 1960.5,250.4C1961.5,241.9 1962.4,232.4 1963.2,224.9C1964.1,217.4 1964.7,209.5 1965.6,205.3C1966.5,201.2 1967.8,200.2 1968.9,199.8C1970.1,199.5 1971.4,201.2 1972.5,203.4C1973.5,205.6 1974.2,210.1 1975.4,213.2C1976.5,216.3 1978.2,219.9 1979.3,222C1980.5,224 1981.1,225.5 1982.2,225.3C1983.4,225.1 1984.9,224 1986.2,221C1987.5,218 1988.8,211.8 1990.1,207.3C1991.4,202.7 1992.4,198.1 1994,193.6C1995.6,189 1997.7,184.3 1999.9,179.9C2002,175.5 2004.8,170.2 2006.7,167.1C2008.7,164 2010.1,162.4 2011.6,161.3C2013.1,160.1 2014.1,159.8 2015.5,160.3C2017,160.8 2018.8,162.1 2020.4,164.2C2022.1,166.3 2023.7,169.9 2025.3,173C2027,176.1 2028.6,180.2 2030.2,182.8C2031.9,185.4 2033.7,187.5 2035.1,188.7C2036.6,189.8 2037.6,190 2039,189.7C2040.5,189.3 2042.3,189 2043.9,186.7C2045.6,184.4 2047.2,179.5 2048.8,175.9C2050.5,172.4 2052.1,168 2053.7,165.2C2055.4,162.4 2056.7,160.9 2058.6,159.3C2060.6,157.7 2063.2,157 2065.5,155.4C2067.8,153.8 2070.2,151.1 2072.3,149.5C2074.4,148 2076.1,146.8 2078.2,146.2C2080.3,145.5 2082.9,145.4 2085.1,145.6C2087.2,145.8 2089.1,147.1 2090.9,147.6C2092.7,148 2093.7,148.4 2095.8,148.2C2097.9,147.9 2101,146.6 2103.7,146.2C2106.3,145.8 2108.9,145.9 2111.5,146C2114.1,146.1 2116.4,146.6 2119.3,147C2122.3,147.3 2125.8,147.6 2129.1,148.2C2132.4,148.7 2136,149.3 2138.9,150.1C2141.8,150.9 2144.5,151.8 2146.7,152.8C2149,153.9 2151,154.8 2152.6,156.4C2154.2,157.9 2155.1,159.8 2156.5,162.2C2158,164.7 2160,168.4 2161.4,171.1C2162.9,173.7 2163.7,176.5 2165.3,177.9C2167,179.3 2169.6,178.5 2171.2,179.5C2172.8,180.5 2174,181.1 2175.1,183.8C2176.3,186.5 2177.2,190.6 2178.1,195.5C2179,200.4 2179.8,207.3 2180.4,213.2C2181.1,219 2181.5,225.7 2182,230.8C2182.5,235.8 2183,241.2 2183.6,243.5C2184.1,245.9 2184.9,246 2185.5,244.9C2186.2,243.7 2186.9,240.6 2187.5,236.7C2188,232.7 2188.4,224.9 2188.8,221C2189.3,217.1 2189.8,214.8 2190.4,213.2C2191,211.5 2191.6,210.9 2192.4,211.2C2193.1,211.5 2194,211.5 2194.7,215.1C2195.4,218.7 2196.1,229.1 2196.7,232.7C2197.2,236.4 2197.5,233.6 2198,236.8C2198.6,240.1 2199.3,247 2199.9,252.1C2200.5,257.1 2201.2,262.2 2201.8,267.2C2202.4,272.3 2203.1,277.8 2203.7,282.5C2204.3,287.1 2204.8,292.2 2205.4,295.1C2205.9,298.1 2206.2,299.1 2206.9,300.2C2207.5,301.3 2208.4,302.1 2209.2,301.7C2209.9,301.3 2210.8,301.1 2211.3,297.9C2211.9,294.7 2212.1,288 2212.5,282.5C2212.8,276.9 2213.1,270.2 2213.6,264.7C2214.1,259.2 2214.7,253.9 2215.5,249.5C2216.3,245.1 2217.3,241.1 2218.2,238.1C2219,235.2 2219.7,233.7 2220.8,231.8C2221.9,229.9 2223.4,228.6 2224.6,226.7C2225.9,224.8 2227.2,222.8 2228.4,220.4C2229.7,217.9 2231,214.7 2232.2,212.1C2233.5,209.6 2234.5,207.5 2236,205.2C2237.5,202.8 2239.4,200.5 2241.1,198.2C2242.8,195.9 2244.7,193.1 2246.2,191.2C2247.6,189.3 2248.6,187.7 2250,186.8C2251.3,185.8 2253,185.1 2254.4,185.5C2255.8,186 2256.8,188.7 2258.2,189.3C2259.6,190 2261.3,190.1 2262.6,189.3C2264,188.6 2265.2,186.3 2266.4,184.9C2267.7,183.5 2269,182.3 2270.2,181.1C2271.5,179.9 2272.6,178.4 2274,177.9C2275.5,177.4 2277.5,178.2 2279.1,177.9C2280.7,177.6 2282.3,175.5 2283.5,176C2284.8,176.5 2285.5,179.9 2286.7,181.1C2287.9,182.3 2289.2,183.2 2290.5,183C2291.8,182.8 2293.3,180.9 2294.3,179.8C2295.4,178.8 2296.2,177.4 2296.8,176.8C2297.5,176.2 2297.8,176.4 2298.4,176.3C2298.9,176.2 2299.7,176.3 2300,176.3"/>
</g>
<g id="markers">
<rect class="k" x="862" y="37" width="3" height="1497"/>
<rect class="k" x="1525" y="37" width="3" height="1497"/>
<rect class="k" x="1690" y="37" width="3" height="1495"/>
<rect class="k" x="1940" y="37" width="3" height="1492"/>
<rect class="k" x="2208" y="37" width="4" height="1492"/>
</g>
<g id="labels" filter="url(#crisp)">
<g id="ticklabels">
<text class="tick" transform="translate(199.5,1746) scale(0.965,1)" text-anchor="middle">4000</text>
<text class="tick" transform="translate(491.5,1746) scale(0.965,1)" text-anchor="middle">3500</text>
<text class="tick" transform="translate(783.5,1746) scale(0.965,1)" text-anchor="middle">3000</text>
<text class="tick" transform="translate(1075.5,1746) scale(0.965,1)" text-anchor="middle">2500</text>
<text class="tick" transform="translate(1367.5,1746) scale(0.965,1)" text-anchor="middle">2000</text>
<text class="tick" transform="translate(1659.5,1746) scale(0.965,1)" text-anchor="middle">1500</text>
<text class="tick" transform="translate(1951.5,1746) scale(0.965,1)" text-anchor="middle">1000</text>
<text class="tick" transform="translate(2243.5,1746) scale(0.965,1)" text-anchor="middle">500</text>
</g>
<g id="legend">
<rect x="233" y="1344" width="183" height="9" fill="#008000"/>
<text class="leg" x="434.5" y="1377">700</text>
<rect x="233" y="1445" width="183" height="9" fill="#ff0000"/>
<text class="leg" x="434.5" y="1477.2">HAp</text>
<rect x="233" y="1545" width="183" height="9" fill="#ff80ff"/>
<text class="leg" x="434.5" y="1579">700<tspan dy="6">_</tspan><tspan dy="-6">HAp</tspan></text>
</g>
<g id="axislabels">
<text class="ax" x="898" y="1885">Wave number, cm<tspan class="sup" x="1651" y="1842.5">−</tspan><tspan class="sup" dy="-4.5">1</tspan></text>
<text class="ax" transform="translate(88.3,1222) rotate(-90)">Transmitance, a.u.</text>
</g>
</g>
</svg></body></html>
